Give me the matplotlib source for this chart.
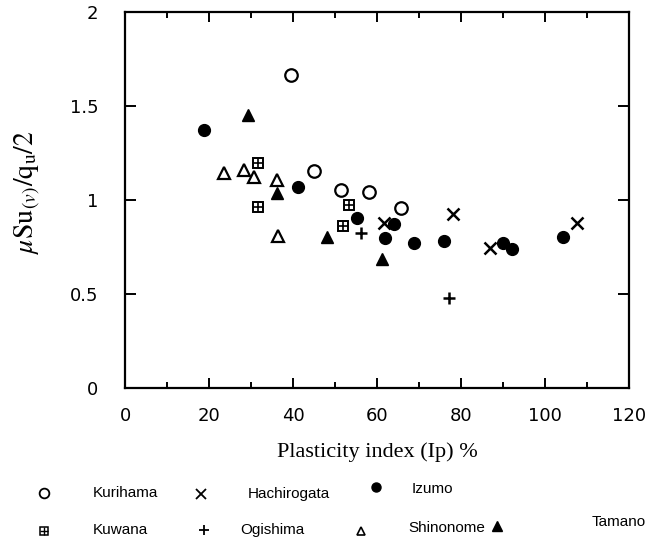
import matplotlib
matplotlib.use("Agg")
import matplotlib.pyplot as plt
from matplotlib.ticker import MultipleLocator

plt.rcParams["mathtext.fontset"] = "stix"

# ---- data (Plasticity index %, mu*Su(v)/(qu/2)) ----
kurihama_x = [39.5, 44.9, 51.4, 58.1, 65.6]
kurihama_y = [1.667, 1.153, 1.053, 1.045, 0.959]

hachirogata_x = [61.6, 78.2, 87.0, 107.6]
hachirogata_y = [0.876, 0.924, 0.746, 0.877]

izumo_x = [18.8, 41.2, 55.2, 64.0, 61.9, 68.8, 76.0, 90.1, 92.2, 104.2]
izumo_y = [1.373, 1.069, 0.904, 0.871, 0.796, 0.770, 0.782, 0.771, 0.739, 0.804]

kuwana_x = [31.6, 31.6, 53.3, 52.0]
kuwana_y = [1.197, 0.961, 0.976, 0.861]

ogishima_x = [56.1, 77.2]
ogishima_y = [0.824, 0.478]

shinonome_x = [23.6, 28.4, 30.6, 36.1, 36.5]
shinonome_y = [1.146, 1.162, 1.121, 1.106, 0.810]

tamano_x = [29.2, 36.1, 48.0, 61.1]
tamano_y = [1.451, 1.035, 0.801, 0.684]

x_ticks = [0, 20, 40, 60, 80, 100, 120]
y_ticks = [0, 0.5, 1, 1.5, 2]
y_tick_labels = ["0", "0.5", "1", "1.5", "2"]

W, H = 670, 548
fig = plt.figure(figsize=(W / 100, H / 100), dpi=100)
ax = fig.add_axes([125 / W, 1 - 388 / H, 504 / W, 376 / H])

k = dict(color="black", linestyle="none")
ax.plot(kurihama_x, kurihama_y, marker="o", ms=9, mfc="white", mew=1.6, **k)
ax.plot(hachirogata_x, hachirogata_y, marker="x", ms=9, mew=1.8, **k)
ax.plot(izumo_x, izumo_y, marker="o", ms=8.5, mfc="black", **k)
ax.plot(kuwana_x, kuwana_y, marker="s", ms=7, mfc="white", mew=1.4, **k)
ax.plot(kuwana_x, kuwana_y, marker="+", ms=7, mew=1.2, **k)
ax.plot(ogishima_x, ogishima_y, marker="+", ms=8, mew=1.8, **k)
ax.plot(shinonome_x, shinonome_y, marker="^", ms=8, mfc="white", mew=1.6, **k)
ax.plot(tamano_x, tamano_y, marker="^", ms=8, mfc="black", **k)

ax.set_xlim(0, 120)
ax.set_ylim(0, 2)
ax.set_xticks(x_ticks)
ax.xaxis.set_minor_locator(MultipleLocator(10))
ax.set_yticks(y_ticks)
ax.set_yticklabels(y_tick_labels)
for s in ax.spines.values():
    s.set_linewidth(1.6)
ax.tick_params(axis="both", which="both", direction="in", top=True, right=True,
               width=1.4, labelsize=13)
ax.tick_params(axis="x", which="major", length=7, pad=14)
ax.tick_params(axis="x", which="minor", length=4)
ax.tick_params(axis="y", which="major", length=8, pad=19)

ax.set_xlabel("Plasticity index (Ip) %", family="Liberation Serif", fontsize=16, labelpad=12)
ax.set_ylabel(r"$\mu\mathrm{Su}_{(v)}/\mathrm{q}_{\mathrm{u}}/2$", fontsize=20)
ax.yaxis.set_label_coords(-0.163, 0.52)

# ---- legend below the axes ----
lg = fig.add_axes([0, 0, 1, 1], facecolor="none")
lg.set_xlim(0, W)
lg.set_ylim(H, 0)
lg.axis("off")
tk = dict(fontsize=11, family="Liberation Sans", va="center", ha="left")
lg.plot([44], [493], marker="o", ms=7, mfc="white", mew=1.3, **k)
lg.text(93, 493, "Kurihama", **tk)
lg.plot([201], [494], marker="x", ms=6.5, mew=1.3, **k)
lg.text(248, 494, "Hachirogata", **tk)
lg.plot([376], [487], marker="o", ms=6.5, mfc="black", **k)
lg.text(412, 489, "Izumo", **tk)
lg.plot([44], [531], marker="s", ms=6, mfc="white", mew=1.1, **k)
lg.plot([44], [531], marker="+", ms=6, mew=1.0, **k)
lg.text(93, 530, "Kuwana", **tk)
lg.plot([204], [530], marker="+", ms=6.5, mew=1.3, **k)
lg.text(240, 530, "Ogishima", **tk)
lg.plot([361], [531], marker="^", ms=5.5, mfc="white", mew=1.2, **k)
lg.text(408, 528, "Shinonome", **tk)
lg.plot([497], [526], marker="^", ms=6.5, mfc="black", **k)
lg.text(592, 522, "Tamano", **tk)

fig.savefig("out.png", dpi=100)
